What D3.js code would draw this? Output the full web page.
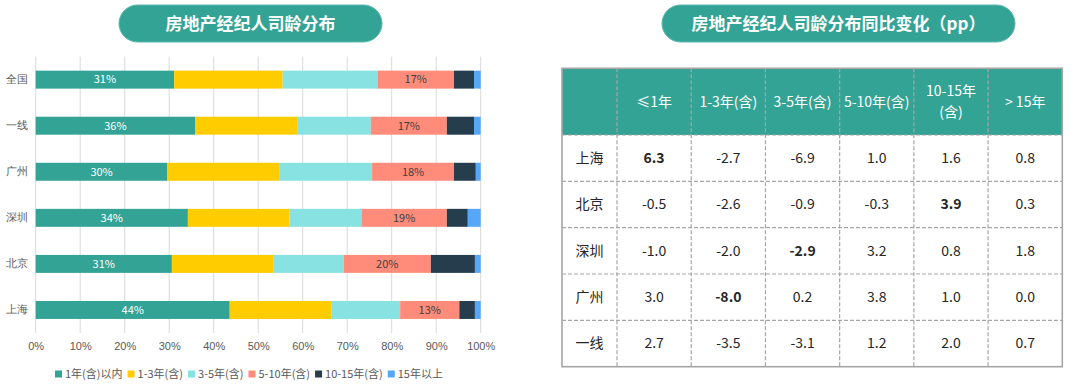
<!DOCTYPE html>
<html>
<head>
<meta charset="utf-8">
<script src="https://cdn.jsdelivr.net/npm/d3@7"></script>
<style>
  body { margin: 0; background: #fff; }
  svg { display: block; font-family: "Microsoft YaHei", "Noto Sans CJK SC", sans-serif; }
</style>
</head>
<body>
<svg id="chart" width="1080" height="388"></svg>
<script>
// ---- data ----
var cities = ["全国", "一线", "广州", "深圳", "北京", "上海"];
var groups = ["1年(含)以内", "1-3年(含)", "3-5年(含)", "5-10年(含)", "10-15年(含)", "15年以上"];
// share of agents per tenure group (%), same order as cities
var under1  = [31.1, 35.8, 29.6, 34.2, 30.6, 43.6];
var y1to3   = [24.4, 23.1, 25.1, 22.8, 22.9, 22.8];
var y3to5   = [21.3, 16.4, 20.9, 16.2, 15.7, 15.5];
var y5to10  = [17.2, 17.1, 18.4, 19.2, 19.6, 13.3];
var y10to15 = [4.5, 6.1, 4.9, 4.7, 9.9, 3.5];
var over15  = [1.5, 1.5, 1.1, 2.9, 1.3, 1.3];
var xTicks  = [0, 10, 20, 30, 40, 50, 60, 70, 80, 90, 100];

// yoy change table (pp)
var tableRows = ["上海", "北京", "深圳", "广州", "一线"];
var tableCols = ["≤1年", "1-3年(含)", "3-5年(含)", "5-10年(含)", "10-15年|(含)", "> 15年"];
var chgShanghai  = [6.3, -2.7, -6.9, 1.0, 1.6, 0.8];
var chgBeijing   = [-0.5, -2.6, -0.9, -0.3, 3.9, 0.3];
var chgShenzhen  = [-1.0, -2.0, -2.9, 3.2, 0.8, 1.8];
var chgGuangzhou = [3.0, -8.0, 0.2, 3.8, 1.0, 0.0];
var chgTier1     = [2.7, -3.5, -3.1, 1.2, 2.0, 0.7];
var boldCells = [[0, 0], [1, 4], [2, 2], [3, 1]];

var colors = ["#33a396", "#ffcc00", "#88e2e2", "#ff8c7a", "#253d4d", "#55a8f8"];
var teal = "#33a396";

var svg = d3.select("#chart");

// title pills
function drawPill(x0, x1, label) {
    var g = svg.append("g");
    g.append("rect")
        .attr("x", x0).attr("y", 5)
        .attr("width", x1 - x0).attr("height", 37)
        .attr("rx", 18.5)
        .attr("fill", teal)
        .attr("stroke", "#5cb8ad").attr("stroke-width", 1);
    g.append("text")
        .attr("x", (x0 + x1) / 2).attr("y", 24)
        .attr("dy", "0.35em")
        .attr("text-anchor", "middle")
        .attr("fill", "#fff")
        .attr("font-size", 17)
        .attr("font-weight", "bold")
        .text(label);
}
drawPill(119, 382, "房地产经纪人司龄分布");
drawPill(662, 1015, "房地产经纪人司龄分布同比变化（pp）");

// ---- stacked bar chart ----
function drawBars() {
    var series = [under1, y1to3, y3to5, y5to10, y10to15, over15];
    var rows = cities.map(function(c, i) {
        var r = { city: c };
        groups.forEach(function(gname, j) { r[gname] = series[j][i]; });
        return r;
    });

    var x = d3.scaleLinear().domain([0, 100]).range([35.7, 480.7]);
    var y = d3.scaleBand().domain(cities).range([56.6, 333]).paddingInner(0.61).paddingOuter(0.305);

    // grid
    svg.append("g").selectAll("line")
        .data(xTicks).enter()
        .append("line")
        .attr("x1", function(d) { return x(d); })
        .attr("x2", function(d) { return x(d); })
        .attr("y1", 56.6).attr("y2", 333)
        .attr("stroke", "#d9d9d9").attr("stroke-width", 1);

    var stack = d3.stack().keys(groups)(rows);

    var layer = svg.append("g").selectAll("g")
        .data(stack).enter()
        .append("g")
        .attr("fill", function(d, i) { return colors[i]; });

    layer.selectAll("rect")
        .data(function(d) { return d; }).enter()
        .append("rect")
        .attr("x", function(d) { return x(d[0]); })
        .attr("width", function(d) { return x(d[1]) - x(d[0]); })
        .attr("y", function(d) { return y(d.data.city); })
        .attr("height", y.bandwidth());

    // value labels only on first and fourth group
    [0, 3].forEach(function(k) {
        svg.append("g").selectAll("text")
            .data(stack[k]).enter()
            .append("text")
            .attr("x", function(d) { return (x(d[0]) + x(d[1])) / 2; })
            .attr("y", function(d) { return y(d.data.city) + y.bandwidth() / 2; })
            .attr("dy", "0.35em")
            .attr("text-anchor", "middle")
            .attr("font-size", 11)
            .attr("fill", k === 0 ? "#fff" : "#404040")
            .text(function(d) { return Math.round(d[1] - d[0]) + "%"; });
    });

    // axes
    var yAxis = svg.append("g")
        .attr("transform", "translate(30,0)")
        .call(d3.axisLeft(y).tickSize(0).tickPadding(2));
    yAxis.select(".domain").remove();
    yAxis.selectAll("text").attr("font-size", 11).attr("fill", "#595959")
        .attr("font-family", null);

    var xAxis = svg.append("g")
        .attr("transform", "translate(0,333)")
        .call(d3.axisBottom(x).tickValues(xTicks).tickSize(0).tickPadding(9)
            .tickFormat(function(d) { return d + "%"; }));
    xAxis.select(".domain").remove();
    xAxis.selectAll("text").attr("font-size", 11).attr("fill", "#595959")
        .attr("font-family", null);

    // legend
    var legend = svg.append("g");
    var items = legend.selectAll("g").data(groups).enter().append("g");
    items.append("rect")
        .attr("width", 7).attr("height", 7).attr("y", -3.5)
        .attr("fill", function(d, i) { return colors[i]; });
    items.append("text")
        .attr("x", 10).attr("dy", "0.35em")
        .attr("font-size", 11).attr("fill", "#595959")
        .text(function(d) { return d; });
    var pos = 0;
    items.each(function() {
        var w = this.getBBox().width;
        d3.select(this).attr("transform", "translate(" + pos + ",0)");
        pos += w + 5;
    });
    legend.attr("transform", "translate(" + (249 - (pos - 5) / 2) + ",374)");
}

// ---- change table ----
function drawTable() {
    var values = [chgShanghai, chgBeijing, chgShenzhen, chgGuangzhou, chgTier1];
    var left = 562, right = 1062.3, top = 68.3, headBottom = 135, bottom = 366.7;
    var firstColW = 55;

    var col = d3.scaleBand().domain(d3.range(tableCols.length)).range([left + firstColW, right]);
    var row = d3.scaleBand().domain(tableRows).range([headBottom, bottom]);

    var g = svg.append("g");

    g.append("rect")
        .attr("x", left).attr("y", top)
        .attr("width", right - left).attr("height", headBottom - top)
        .attr("fill", teal);

    // inner dashed lines
    var lineColor = "#a6a6a6";
    g.selectAll("line.v")
        .data(d3.range(tableCols.length)).enter()
        .append("line")
        .attr("x1", function(d) { return col(d); })
        .attr("x2", function(d) { return col(d); })
        .attr("y1", top).attr("y2", bottom)
        .attr("stroke", lineColor).attr("stroke-width", 1.2)
        .attr("stroke-dasharray", "4,2");
    g.selectAll("line.h")
        .data(tableRows).enter()
        .append("line")
        .attr("x1", left).attr("x2", right)
        .attr("y1", function(d) { return row(d); })
        .attr("y2", function(d) { return row(d); })
        .attr("stroke", lineColor).attr("stroke-width", 1.2)
        .attr("stroke-dasharray", "4,2");

    g.append("rect")
        .attr("x", left).attr("y", top)
        .attr("width", right - left).attr("height", bottom - top)
        .attr("fill", "none")
        .attr("stroke", lineColor).attr("stroke-width", 1.6);

    // header text
    g.selectAll("text.head")
        .data(tableCols).enter()
        .append("text")
        .attr("text-anchor", "middle")
        .attr("font-size", 14).attr("fill", "#fff")
        .each(function(d, i) {
            var parts = d.split("|");
            var cx = col(i) + col.bandwidth() / 2;
            var t = d3.select(this);
            parts.forEach(function(p, k) {
                t.append("tspan")
                    .attr("x", cx)
                    .attr("y", (top + headBottom) / 2 + (k - (parts.length - 1) / 2) * 21)
                    .attr("dy", "0.35em")
                    .text(p);
            });
        });

    // row labels
    g.selectAll("text.rowlab")
        .data(tableRows).enter()
        .append("text")
        .attr("x", left + firstColW / 2)
        .attr("y", function(d) { return row(d) + row.bandwidth() / 2; })
        .attr("dy", "0.35em")
        .attr("text-anchor", "middle")
        .attr("font-size", 14).attr("fill", "#262626")
        .text(function(d) { return d; });

    // cells
    var cells = [];
    values.forEach(function(vals, r) {
        vals.forEach(function(v, c) {
            var bold = boldCells.some(function(b) { return b[0] === r && b[1] === c; });
            cells.push({ r: r, c: c, v: v, bold: bold });
        });
    });
    g.selectAll("text.cell")
        .data(cells).enter()
        .append("text")
        .attr("x", function(d) { return col(d.c) + col.bandwidth() / 2; })
        .attr("y", function(d) { return row(tableRows[d.r]) + row.bandwidth() / 2; })
        .attr("dy", "0.35em")
        .attr("text-anchor", "middle")
        .attr("font-size", 14).attr("fill", "#262626")
        .attr("font-weight", function(d) { return d.bold ? "bold" : "normal"; })
        .text(function(d) { return d.v.toFixed(1); });
}

drawBars();
drawTable();
</script>
</body>
</html>
